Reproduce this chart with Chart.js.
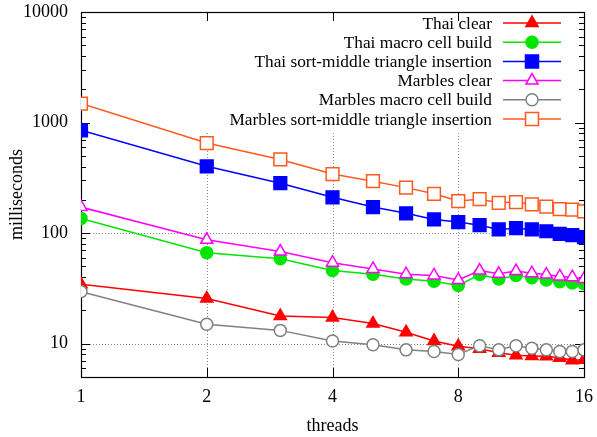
<!DOCTYPE html>
<html>
<head>
<meta charset="utf-8">
<script src="https://cdn.jsdelivr.net/npm/chart.js@4"></script>
<style>
html,body{margin:0;padding:0;background:#fff;}
#wrap{width:597px;height:437px;position:relative;}
</style>
</head>
<body>
<div id="wrap"><canvas id="c" width="597" height="437"></canvas></div>
<script>
// ---- data ----
const threads = [1,2,3,4,5,6,7,8,9,10,11,12,13,14,15,16];
const seriesNames = [
  "Thai clear",
  "Thai macro cell build",
  "Thai sort-middle triangle insertion",
  "Marbles clear",
  "Marbles macro cell build",
  "Marbles sort-middle triangle insertion"
];
const thaiClear    = [34.5, 25.6, 17.8, 17.3, 15.2, 12.7, 10.6, 9.5, 9.0, 8.3, 7.85, 7.75, 7.7, 7.45, 7.1, 7.15];
const thaiMacro    = [136, 66.4, 58.6, 45.9, 42.5, 38.5, 36.7, 33.6, 42.2, 38.5, 41.4, 39.6, 37.7, 36.4, 35.5, 34.8];
const thaiSort     = [851, 402, 283, 211, 172, 151, 133, 126, 118, 108, 111, 108, 104, 98.6, 95.8, 91.9];
const marblesClear = [172, 87, 68.2, 54, 47.5, 42.5, 41.4, 37.7, 45.9, 42.9, 45.4, 43.4, 42.2, 40.6, 40, 38.5];
const marblesMacro = [29.6, 15, 13.2, 10.6, 9.8, 8.8, 8.5, 8.0, 9.6, 8.8, 9.6, 9.1, 8.8, 8.5, 8.5, 8.8];
const marblesSort  = [1486, 653, 464, 342, 295, 258, 227, 195, 203, 188, 191, 182, 174, 165, 163, 157];
const xTickLabels = [1, 2, 4, 8, 16];
const yTickLabels = [10, 100, 1000, 10000];
const xGridValues = [2, 4, 8];
const yGridValues = [10, 100];

const FONT = "'Liberation Serif', 'DejaVu Serif', serif";
const styles = [
  {color:'#ff0000', shape:'triangle', fill:true},
  {color:'#00e600', shape:'circle',   fill:true},
  {color:'#0000ff', shape:'rect',     fill:true},
  {color:'#ff00ff', shape:'triangle', fill:false},
  {color:'#808080', shape:'circle',   fill:false},
  {color:'#ff5a1e', shape:'rect',     fill:false}
];
const allSeries = [thaiClear, thaiMacro, thaiSort, marblesClear, marblesMacro, marblesSort];

const radiusFor = s => s === 'rect' ? 9 : (s === 'triangle' ? 7 : 6);

const datasets = allSeries.map((vals, i) => ({
  label: seriesNames[i],
  data: threads.map((t, j) => ({x: t, y: vals[j]})),
  borderColor: styles[i].color,
  backgroundColor: styles[i].fill ? styles[i].color : '#ffffff',
  pointStyle: styles[i].shape,
  pointRadius: radiusFor(styles[i].shape),
  pointBorderWidth: 1.5,
  borderWidth: 1.5,
  tension: 0,
  order: -i
}));

function drawMarker(ctx, st, x, y) {
  ctx.save();
  ctx.lineWidth = 1.5;
  ctx.strokeStyle = st.color;
  ctx.fillStyle = st.fill ? st.color : '#ffffff';
  ctx.beginPath();
  if (st.shape === 'circle') {
    ctx.arc(x, y, 6, 0, Math.PI * 2);
  } else if (st.shape === 'rect') {
    ctx.rect(x - 6.5, y - 6.5, 13, 13);
  } else {
    const r = 7;
    const h = r * 3 / 2;
    const s = 3 * r / Math.sqrt(3);
    ctx.moveTo(x - s/2, y + h/3);
    ctx.lineTo(x + s/2, y + h/3);
    ctx.lineTo(x, y - 2*h/3);
    ctx.closePath();
  }
  ctx.fill();
  ctx.stroke();
  ctx.restore();
}

const KEY_BOTTOM = 132;

const framePlugin = {
  id: 'frame',
  beforeDatasetsDraw(chart) {
    const {ctx, chartArea: a, scales} = chart;
    const xs = scales.x, ys = scales.y;
    ctx.save();
    ctx.strokeStyle = '#888888';
    ctx.lineWidth = 1;
    ctx.setLineDash([1, 2]);
    yGridValues.forEach(v => {
      const y = Math.round(ys.getPixelForValue(v)) + 0.5;
      ctx.beginPath(); ctx.moveTo(a.left, y); ctx.lineTo(a.right, y); ctx.stroke();
    });
    xGridValues.forEach(v => {
      const x = Math.round(xs.getPixelForValue(v)) + 0.5;
      ctx.beginPath(); ctx.moveTo(x, a.bottom); ctx.lineTo(x, KEY_BOTTOM); ctx.stroke();
    });
    ctx.setLineDash([]);
    ctx.strokeStyle = '#000000';
    for (let d = 1; d <= 1000; d *= 10) {
      for (let m = 1; m <= 10; m++) {
        const v = d * m;
        if (v < ys.min || v > ys.max) continue;
        const len = (m === 1 || m === 10) ? 9 : 5;
        const y = Math.round(ys.getPixelForValue(v)) + 0.5;
        ctx.beginPath();
        ctx.moveTo(a.left, y); ctx.lineTo(a.left + len, y);
        ctx.moveTo(a.right, y); ctx.lineTo(a.right - len, y);
        ctx.stroke();
      }
    }
    xGridValues.forEach(v => {
      const x = Math.round(xs.getPixelForValue(v)) + 0.5;
      ctx.beginPath();
      ctx.moveTo(x, a.bottom); ctx.lineTo(x, a.bottom - 9);
      ctx.moveTo(x, a.top); ctx.lineTo(x, a.top + 9);
      ctx.stroke();
    });
    ctx.lineWidth = 1.2;
    ctx.strokeRect(a.left + 0.5, a.top + 0.5, a.right - a.left, a.bottom - a.top);
    ctx.restore();
  },
  afterDatasetsDraw(chart) {
    const {ctx} = chart;
    ctx.save();
    ctx.font = '17.3px ' + FONT;
    ctx.textAlign = 'right';
    ctx.textBaseline = 'middle';
    const textRight = 492, lx0 = 503, lx1 = 561, y0 = 23, dy = 19.2;
    chart.data.datasets.forEach((ds, i) => {
      const y = y0 + i * dy;
      ctx.fillStyle = '#000';
      ctx.fillText(ds.label, textRight, y + 1);
      ctx.strokeStyle = styles[i].color;
      ctx.lineWidth = 1.5;
      ctx.beginPath(); ctx.moveTo(lx0, y); ctx.lineTo(lx1, y); ctx.stroke();
      drawMarker(ctx, styles[i], (lx0 + lx1) / 2, y);
    });
    ctx.restore();
  }
};

function zeroPad(s) { s.paddingLeft = 0; s.paddingRight = 0; s.paddingTop = 0; s.paddingBottom = 0; }

new Chart(document.getElementById('c'), {
  type: 'line',
  data: {datasets},
  options: {
    responsive: false,
    animation: false,
    devicePixelRatio: 1,
    layout: {padding: {top: 12, right: 13, left: 0, bottom: 0}},
    plugins: {legend: {display: false}, tooltip: {enabled: false}},
    elements: {point: {hitRadius: 0}},
    scales: {
      x: {
        type: 'logarithmic',
        min: 1, max: 16,
        afterBuildTicks: s => { s.ticks = xTickLabels.map(v => ({value: v})); },
        afterFit: s => { s.height = 60; zeroPad(s); },
        ticks: {
          color: '#000', font: {family: FONT, size: 18}, padding: 9,
          autoSkip: false, maxRotation: 0,
          callback: v => String(v)
        },
        grid: {display: false, drawTicks: false},
        border: {display: false},
        title: {display: true, text: 'threads', color: '#000', font: {family: FONT, size: 18}, padding: {top: 0, bottom: 0}}
      },
      y: {
        type: 'logarithmic',
        min: 5, max: 10000,
        afterBuildTicks: s => { s.ticks = yTickLabels.map(v => ({value: v})); },
        afterFit: s => { s.width = 81; zeroPad(s); },
        ticks: {
          color: '#000', font: {family: FONT, size: 18}, padding: 13,
          autoSkip: false,
          callback: v => String(v)
        },
        grid: {display: false, drawTicks: false},
        border: {display: false},
        title: {display: true, text: 'milliseconds', color: '#000', font: {family: FONT, size: 18}, padding: {top: 6, bottom: 0}}
      }
    }
  },
  plugins: [framePlugin]
});
</script>
</body>
</html>
